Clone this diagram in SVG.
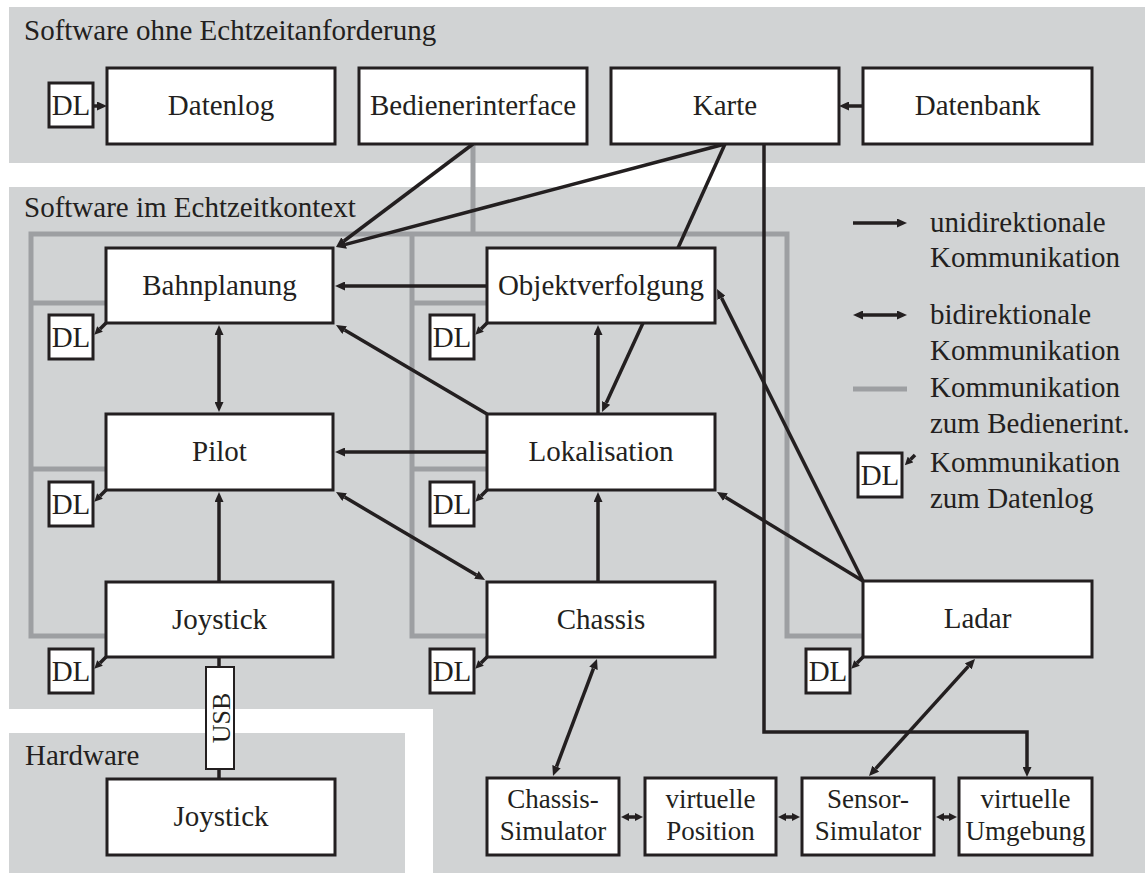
<svg xmlns="http://www.w3.org/2000/svg" width="1145" height="873" viewBox="0 0 1145 873">
<defs>
<style>
.bg{fill:#d1d3d4}
.box{fill:#fff;stroke:#231f20;stroke-width:3}
.usb{fill:#fff;stroke:#231f20;stroke-width:2}
.t{font-family:"Liberation Serif","Times New Roman",serif;font-size:29px;fill:#231f20;text-anchor:middle}
.s{font-size:27px}
.l{text-anchor:start}
.c{fill:none;stroke:#231f20;stroke-width:3.5}
.g{fill:none;stroke:#9d9fa2;stroke-width:5}
.a{marker-end:url(#ah)}
.b{marker-start:url(#ah);marker-end:url(#ah)}
.as{marker-end:url(#am)}
.bs{marker-start:url(#am);marker-end:url(#am)}
</style>
<marker id="ah" viewBox="0 0 10 9" refX="0" refY="4.5" markerWidth="10" markerHeight="9" markerUnits="userSpaceOnUse" orient="auto-start-reverse"><path d="M0,0 L10,4.5 L0,9 z" fill="#231f20"/></marker>
<marker id="am" viewBox="0 0 8 8" refX="0" refY="4" markerWidth="8" markerHeight="8" markerUnits="userSpaceOnUse" orient="auto-start-reverse"><path d="M0,0 L8,4 L0,8 z" fill="#231f20"/></marker>
</defs>

<g id="regions">
<rect class="bg" x="9" y="7" width="1136" height="156"/>
<path class="bg" d="M9,187 H1145 V873 H433 V709 H9 Z"/>
<rect class="bg" x="9" y="733" width="396" height="140"/>
<text class="t l" x="24" y="40">Software ohne Echtzeitanforderung</text>
<text class="t l" x="24" y="217">Software im Echtzeitkontext</text>
<text class="t l" x="25" y="765">Hardware</text>
</g>

<g id="operator-links">
<path class="g" d="M473,144 V234"/>
<path class="g" d="M863,636 H787 V234 H31 V636 H107"/>
<path class="g" d="M412,234 V636 H487"/>
<path class="g" d="M31,303 H107 M412,303 H487 M31,469 H107 M412,469 H487"/>
</g>

<g id="connectors">
<path class="c a" d="M93,106 H97"/>
<path class="c a" d="M863,106 H849"/>
<path class="c a" d="M473,144 L344,241"/>
<path class="c a" d="M725,144 L345.7,244.4"/>
<path class="c" d="M725,144 L678,248"/>
<path class="c a" d="M764,144 V732 H1027 V767"/>
<path class="c a" d="M487,286 H345"/>
<path class="c a" d="M487,414 L344.6,330.1"/>
<path class="c b" d="M219,335 V402"/>
<path class="c a" d="M487,452 H345"/>
<path class="c a" d="M598,414 V335"/>
<path class="c a" d="M643,323 L606.2,402.9"/>
<path class="c a" d="M219,582 V502"/>
<path class="c b" d="M344.6,497.1 L476.4,574.9"/>
<path class="c a" d="M598,582 V502"/>
<path class="c a" d="M863,581 L725.5,497.2"/>
<path class="c a" d="M863,581 L721.5,297.9"/>
<path class="c b" d="M593.5,668.4 L556.5,766.6"/>
<path class="c b" d="M968.3,666.4 L875.7,768.6"/>
<path class="c bs" d="M629,817 H635"/>
<path class="c bs" d="M786,817 H792"/>
<path class="c bs" d="M944,817 H949"/>
<path class="c" d="M219,657 V779"/>
<path class="c as" d="M106,323 L100,329"/>
<path class="c as" d="M106,490 L100,496"/>
<path class="c as" d="M106,657 L100,663"/>
<path class="c as" d="M487,323 L481,329"/>
<path class="c as" d="M487,490 L481,496"/>
<path class="c as" d="M487,657 L481,663"/>
<path class="c as" d="M863,657 L857,663"/>
</g>

<g id="dl-top"><rect class="box" x="49" y="83" width="44" height="44"/><text class="t" x="71" y="115">DL</text></g>
<g id="datenlog"><rect class="box" x="107" y="68" width="228" height="76"/><text class="t" x="221" y="115">Datenlog</text></g>
<g id="bedienerinterface"><rect class="box" x="359" y="68" width="228" height="76"/><text class="t" x="473" y="115">Bedienerinterface</text></g>
<g id="karte"><rect class="box" x="611" y="68" width="228" height="76"/><text class="t" x="725" y="115">Karte</text></g>
<g id="datenbank"><rect class="box" x="863" y="68" width="229" height="76"/><text class="t" x="977.5" y="115">Datenbank</text></g>

<g id="bahnplanung"><rect class="box" x="106" y="248" width="227" height="75"/><text class="t" x="219.5" y="295">Bahnplanung</text></g>
<g id="dl-bahnplanung"><rect class="box" x="49" y="315" width="44" height="44"/><text class="t" x="71" y="347">DL</text></g>
<g id="pilot"><rect class="box" x="106" y="414" width="227" height="76"/><text class="t" x="219.5" y="461">Pilot</text></g>
<g id="dl-pilot"><rect class="box" x="49" y="482" width="44" height="44"/><text class="t" x="71" y="514">DL</text></g>
<g id="joystick"><rect class="box" x="106" y="582" width="227" height="75"/><text class="t" x="219.5" y="629">Joystick</text></g>
<g id="dl-joystick"><rect class="box" x="49" y="649" width="44" height="44"/><text class="t" x="71" y="681">DL</text></g>

<g id="objektverfolgung"><rect class="box" x="487" y="248" width="228" height="75"/><text class="t" x="601" y="295">Objektverfolgung</text></g>
<g id="dl-objektverfolgung"><rect class="box" x="430" y="315" width="44" height="44"/><text class="t" x="452" y="347">DL</text></g>
<g id="lokalisation"><rect class="box" x="487" y="414" width="228" height="76"/><text class="t" x="601" y="461">Lokalisation</text></g>
<g id="dl-lokalisation"><rect class="box" x="430" y="482" width="44" height="44"/><text class="t" x="452" y="514">DL</text></g>
<g id="chassis"><rect class="box" x="487" y="582" width="228" height="75"/><text class="t" x="601" y="629">Chassis</text></g>
<g id="dl-chassis"><rect class="box" x="430" y="649" width="44" height="44"/><text class="t" x="452" y="681">DL</text></g>

<g id="ladar"><rect class="box" x="863" y="581" width="229" height="76"/><text class="t" x="977.5" y="628">Ladar</text></g>
<g id="dl-ladar"><rect class="box" x="806" y="649" width="44" height="44"/><text class="t" x="828" y="681">DL</text></g>

<g id="usb"><rect class="usb" x="206" y="667" width="28" height="102"/><text class="t" transform="translate(230,718) rotate(-90)" style="font-size:26px">USB</text></g>
<g id="hw-joystick"><rect class="box" x="107" y="779" width="228" height="76"/><text class="t" x="221" y="826">Joystick</text></g>

<g id="chassis-simulator"><rect class="box" x="487" y="778" width="132" height="77"/><text class="t s" x="553" y="808">Chassis-</text><text class="t s" x="553" y="840">Simulator</text></g>
<g id="virtuelle-position"><rect class="box" x="645" y="778" width="131" height="77"/><text class="t s" x="710.5" y="808">virtuelle</text><text class="t s" x="710.5" y="840">Position</text></g>
<g id="sensor-simulator"><rect class="box" x="802" y="778" width="132" height="77"/><text class="t s" x="868" y="808">Sensor-</text><text class="t s" x="868" y="840">Simulator</text></g>
<g id="virtuelle-umgebung"><rect class="box" x="959" y="778" width="133" height="77"/><text class="t s" x="1025.5" y="808">virtuelle</text><text class="t s" x="1025.5" y="840">Umgebung</text></g>

<g id="legend">
<path class="c a" d="M853,223 H897"/>
<text class="t l" x="930" y="232">unidirektionale</text>
<text class="t l" x="930" y="267">Kommunikation</text>
<path class="c b" d="M863,315 H897"/>
<text class="t l" x="930" y="324">bidirektionale</text>
<text class="t l" x="930" y="360">Kommunikation</text>
<path class="g" d="M853,389 H907"/>
<text class="t l" x="930" y="397">Kommunikation</text>
<text class="t l" x="930" y="433">zum Bedienerint.</text>
<rect class="box" x="858" y="453" width="44" height="44"/>
<text class="t" x="880" y="485">DL</text>
<path class="c as" d="M915,455 L910.5,459.5"/>
<text class="t l" x="930" y="472">Kommunikation</text>
<text class="t l" x="930" y="508">zum Datenlog</text>
</g>
</svg>
